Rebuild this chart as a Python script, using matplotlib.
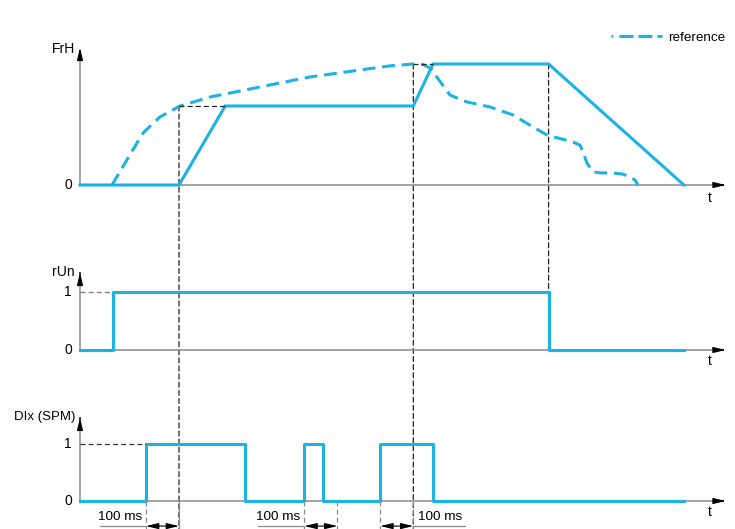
import matplotlib.pyplot as plt
from matplotlib.lines import Line2D
from matplotlib.patches import ConnectionPatch

plt.rcParams['font.family'] = ['Liberation Sans', 'DejaVu Sans']

# time in ms
t_end = 1830
t_axis = 1965

# FrH (solid) and reference (dashed), normalised frequency
frh_t = [0, 300, 440, 1010, 1070, 1420, 1830]
frh_v = [0, 0, 0.653, 0.653, 1.0, 1.0, 0]

ref_t = [97, 142, 191, 242, 303, 394, 545, 697, 848, 940, 1012, 1040, 1061,
         1090, 1121, 1150, 1173, 1242, 1312, 1360, 1415, 1460, 1494, 1515,
         1525, 1536, 1555, 1580, 1615, 1645, 1667, 1682, 1691]
ref_v = [0, 0.207, 0.43, 0.562, 0.653, 0.727, 0.81, 0.893, 0.95, 0.985, 1.0,
         0.995, 0.967, 0.86, 0.744, 0.71, 0.686, 0.645, 0.579, 0.5, 0.413,
         0.38, 0.355, 0.33, 0.27, 0.182, 0.107, 0.1, 0.099, 0.09, 0.066,
         0.04, 0]

# rUn
run_t = [0, 100, 100, 1420, 1420, 1830]
run_v = [0, 0, 1, 1, 0, 0]

# DIx (SPM)
dix_t = [0, 200, 200, 500, 500, 680, 680, 735, 735, 910, 910, 1070, 1070, 1830]
dix_v = [0, 0, 1, 1, 0, 0, 1, 1, 0, 0, 1, 1, 0, 0]

# 100 ms delays: (start, end, text side)
delays = [(200, 300, 'left'), (680, 780, 'left'), (910, 1010, 'right')]

cyan = '#1BB3E6'
gray = '#8a8a8a'

W, H = 735, 529
fig = plt.figure(figsize=(W / 100, H / 100), dpi=100)

x0_px, px_per_ms = 80, 0.33
xlim = (-x0_px / px_per_ms, (W - x0_px) / px_per_ms)


def make_ax(top_px, bot_px, zero_px, px_per_unit):
    ax = fig.add_axes([0, 1 - bot_px / H, 1, (bot_px - top_px) / H])
    ax.set_xlim(xlim)
    ax.set_ylim((zero_px - bot_px) / px_per_unit, (zero_px - top_px) / px_per_unit)
    ax.axis('off')
    return ax


ax1 = make_ax(0, 215, 185, 121)
ax2 = make_ax(215, 380, 350, 58)
ax3 = make_ax(380, 529, 501, 57)


def draw_axes(ax, top, label, ticks, t_y, lsize=10):
    ax.plot([0, t_axis - 20], [0, 0], color=gray, lw=1.1)
    ax.plot([0, 0], [0, top - 0.05], color=gray, lw=1.1)
    hd = dict(arrowstyle='-|>,head_length=0.75,head_width=0.18', color='black', lw=0.8)
    ax.annotate('', xy=(t_axis, 0), xytext=(t_axis - 30, 0), arrowprops=hd)
    ax.annotate('', xy=(0, top), xytext=(0, top - 0.1), arrowprops=hd)
    ax.text(-15, top - 0.03, label, ha='right', va='center', fontsize=lsize)
    for v in ticks:
        ax.text(-25, v, str(v), ha='right', va='center', fontsize=10)
    ax.text(t_axis - 58, t_y, 't', ha='center', va='center', fontsize=10)


draw_axes(ax1, 1.157, 'FrH', [0], -0.11)
draw_axes(ax2, 1.38, 'rUn', [0, 1], -0.19)
draw_axes(ax3, 1.51, 'DIx (SPM)', [0, 1], -0.2, lsize=9.5)

lw = 2.2
ax1.plot(frh_t, frh_v, color=cyan, lw=lw, solid_joinstyle='miter')
ax1.plot(ref_t, ref_v, color=cyan, lw=lw, dashes=(4.2, 2.2))
ax2.plot(run_t, run_v, color=cyan, lw=lw)
ax3.plot(dix_t, dix_v, color=cyan, lw=lw)

# guide lines
blk = dict(color='#222222', lw=0.9, ls=(0, (4, 2.5)))
ax1.plot([300, 440], [0.653, 0.653], **blk)
ax1.plot([1010, 1070], [1.0, 1.0], **blk)
ax2.plot([0, 100], [1, 1], color='#777777', lw=0.9, ls=(0, (4, 2.5)))
ax3.plot([0, 200], [1, 1], color='#333333', lw=0.9, ls=(0, (4, 2.5)))

ybot = ax3.get_ylim()[0]
for t, ya, y_lo, axb in [(300, 0.653, ybot, ax3), (1010, 1.0, ybot, ax3),
                         (1420, 1.0, 1.0, ax2)]:
    cp = ConnectionPatch((t, ya), (t, y_lo), 'data', 'data', axesA=ax1, axesB=axb,
                         color='#222222', lw=0.9, ls=(0, (4, 2.5)), zorder=0)
    fig.add_artist(cp)

# 100 ms delay markers
y_arr = -0.44
for ts, te, side in delays:
    ax3.plot([ts, ts], [0, ybot], color=gray, lw=0.9, ls=(0, (4, 2.5)), clip_on=False)
    ax3.plot([te, te], [0, ybot], color=gray, lw=0.9, ls=(0, (4, 2.5)), clip_on=False)
    ax3.annotate('', xy=(ts, y_arr), xytext=(te, y_arr),
                 arrowprops=dict(arrowstyle='<|-|>,head_length=0.75,head_width=0.18',
                                 color='black', lw=0.8, shrinkA=0, shrinkB=0))
    if side == 'left':
        ax3.plot([ts - 140, ts], [y_arr, y_arr], color=gray, lw=0.9)
        ax3.text(ts - 12, -0.28, '100 ms', ha='right', va='center', fontsize=9.7)
    else:
        ax3.plot([te, te + 157], [y_arr, y_arr], color=gray, lw=0.9)
        ax3.text(te + 14, -0.28, '100 ms', ha='left', va='center', fontsize=9.7)

# legend
h = Line2D([], [], color=cyan, lw=lw, dashes=(0.6, 2.0, 4.6, 1.6, 4.6, 1.6, 4.6, 20))
fig.legend(handles=[h], labels=['reference'], loc='upper right',
           bbox_to_anchor=(1.0, 0.958), frameon=False, fontsize=9.7,
           handlelength=3.8, handletextpad=0.5, borderaxespad=0.3)

fig.savefig('out.png', dpi=100)
